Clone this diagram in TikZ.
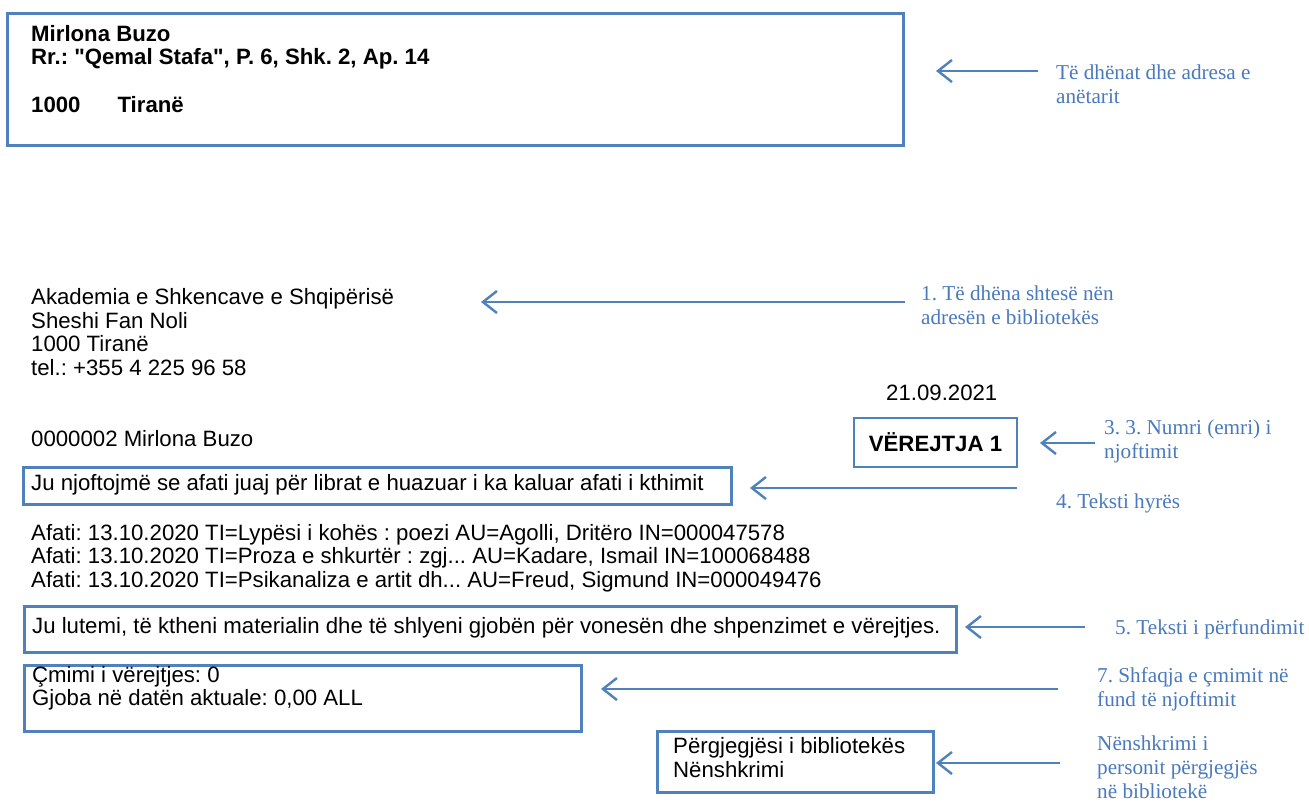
\documentclass[tikz,border=0pt]{standalone}
\usepackage{fontspec}
\setmainfont{Liberation Sans}
\newfontfamily\notefont{Liberation Serif}
\usetikzlibrary{arrows.meta,positioning}
\definecolor{frameblue}{RGB}{79,129,189}
\definecolor{noteblue}{RGB}{74,122,190}
\frenchspacing

\begin{document}
\begin{tikzpicture}[
  x=1pt, y=-1pt,
  frame/.style={rectangle, draw=frameblue, line width=2.6pt, inner sep=0pt},
  txt/.style={anchor=west, inner sep=0pt, align=left, font=\fontsize{22.2}{23.5}\selectfont},
  btxt/.style={txt, font=\fontsize{22.2}{23.5}\selectfont\bfseries},
  note/.style={anchor=west, inner sep=0pt, align=left, text=noteblue, font=\notefont\fontsize{21.2}{24}\selectfont},
  arr/.style={-{Straight Barb[length=14pt,width=22pt]}, draw=frameblue, line width=2.4pt}
]
\fill[white] (0,0) rectangle (1309,801);
\useasboundingbox (0,0) rectangle (1309,801);

% address of the member
\node[frame, anchor=north west, minimum width=896pt, minimum height=132pt] (member) at (6,12) {};
\node[btxt] (mname) at (31,34) {Mirlona Buzo};
\node[btxt] (mstreet) at (31,58.5) {Rr.: \textquotedbl Qemal Stafa\textquotedbl, P. 6, Shk. 2, Ap. 14};
\node[btxt] (mcity) at (31,105) {1000\hspace{37pt}Tiranë};

% the notice itself
\node[txt] (lib) at (31,332) {Akademia e Shkencave e Shqipërisë\\Sheshi Fan Noli\\1000 Tiranë\\tel.: +355 4 225 96 58};
\node[txt] (date) at (886,393) {21.09.2021};
\node[txt] (reader) at (31,439) {0000002 Mirlona Buzo};
\node[frame, btxt, anchor=center, minimum width=163pt, minimum height=49pt] (notice) at (935.5,442.5) {VËREJTJA 1};

\node[frame, anchor=north west, minimum width=708pt, minimum height=37pt] (introbox) at (22,466) {};
\node[txt] (intro) at (31,485) {Ju njoftojmë se afati juaj për librat e huazuar i ka kaluar afati i kthimit};

\node[txt] (items) at (31,558) {Afati: 13.10.2020 TI=Lypësi i kohës : poezi AU=Agolli, Dritëro IN=000047578\\
  Afati: 13.10.2020 TI=Proza e shkurtër : zgj... AU=Kadare, Ismail IN=100068488\\
  Afati: 13.10.2020 TI=Psikanaliza e artit dh... AU=Freud, Sigmund IN=000049476};

\node[frame, anchor=north west, minimum width=932pt, minimum height=46pt] (closebox) at (23,605) {};
\node[txt] (closing) at (32,628) {Ju lutemi, të ktheni materialin dhe të shlyeni gjobën për vonesën dhe shpenzimet e vërejtjes.};

\node[frame, anchor=north west, minimum width=557pt, minimum height=66pt] (pricebox) at (23,664) {};
\node[txt] (price) at (32,688) {Çmimi i vërejtjes: 0\\Gjoba në datën aktuale: 0,00 ALL};

\node[frame, anchor=north west, minimum width=276pt, minimum height=61pt] (signbox) at (656,730) {};
\node[txt] (sign) at (673,757.5) {Përgjegjësi i bibliotekës\\Nënshkrimi};

% notes on the right
\node[note] (n0) at (1056,84.5) {Të dhënat dhe adresa e\\anëtarit};
\node[note] (n1) at (921,305) {1. Të dhëna shtesë nën\\adresën e bibliotekës};
\node[note] (n3) at (1104,441.5) {3. 3. Numri (emri) i\\njoftimit};
\node[note] (n4) at (1056,503) {4. Teksti hyrës};
\node[note] (n5) at (1115,629) {5. Teksti i përfundimit};
\node[note] (n7) at (1097,689) {7. Shfaqja e çmimit në\\fund të njoftimit};
\node[note] (n8) at (1097,767) {Nënshkrimi i\\personit përgjegjës\\në bibliotekë};

% arrows
\coordinate (t0) at (1038,71);  \coordinate (h0) at (936,71);
\coordinate (t1) at (905,302);  \coordinate (h1) at (481,302);
\coordinate (t3) at (1095,443); \coordinate (h3) at (1040,443);
\coordinate (t4) at (1017,488); \coordinate (h4) at (750,488);
\coordinate (t5) at (1085,627); \coordinate (h5) at (965,627);
\coordinate (t7) at (1058,689); \coordinate (h7) at (601,689);
\coordinate (t8) at (1060,763); \coordinate (h8) at (936,763);
\foreach \i in {0,1,3,4,5,7,8}
  \draw[arr] (t\i) -- (h\i);

\end{tikzpicture}
\end{document}
